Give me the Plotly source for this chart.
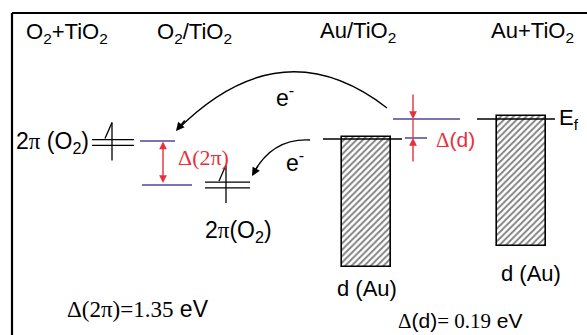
import plotly.graph_objects as go

# ---------------- data (diagram units: 587 x 335 canvas, y grows downward) ----------------
column_titles = ["O<sub>2</sub>+TiO<sub>2</sub>", "O<sub>2</sub>/TiO<sub>2</sub>",
                 "Au/TiO<sub>2</sub>", "Au+TiO<sub>2</sub>"]
column_x = [67, 194, 358, 532]
column_title_y = [33, 33, 32, 32]

# 2pi(O2) levels: free O2 (double line) and adsorbed O2 (double line)
o2_level_x0 = [92, 205]
o2_level_x1 = [134, 250]
o2_level_y = [142.5, 185]
o2_spin_x = [112, 226]

# shifted 2pi levels (blue)
pi_blue_x0 = [140, 142]
pi_blue_x1 = [175, 192]
pi_blue_y = [141, 185]

# Au d-band (hatched boxes): Au/TiO2 and Au+TiO2
d_band_x = [366.5, 521.5]
d_band_top = [137, 116]
d_band_bottom = [267, 246]
d_band_width = [49, 49]

# Fermi levels (black) and shifted d levels (blue)
fermi_x0 = [323, 477]
fermi_x1 = [402, 555]
fermi_y = [139, 119]
d_blue_x0 = [393, 405]
d_blue_x1 = [460, 427]
d_blue_y = [119, 138]

delta_2pi = 1.35
delta_d = 0.19

BLUE = "#4f449c"
RED = "#e8303a"
SANS = "Liberation Sans"
SERIF = "Liberation Serif"

fig = go.Figure()

# hatched d-band boxes
fig.add_trace(go.Bar(
    x=d_band_x, base=d_band_top,
    y=[b - t for b, t in zip(d_band_bottom, d_band_top)],
    width=d_band_width,
    marker=dict(color="white", line=dict(color="black", width=1.6),
                pattern=dict(shape="/", fgcolor="black", bgcolor="white",
                             size=4.5, solidity=0.4)),
    hoverinfo="skip", showlegend=False))

shapes = []
def line(x0, y0, x1, y1, color="black", width=1.5):
    shapes.append(dict(type="line", xref="x", yref="y", x0=x0, y0=y0, x1=x1, y1=y1,
                       line=dict(color=color, width=width)))

# frame (left and top)
line(12, 13, 12, 335, width=2.2)
line(12, 13, 587, 13, width=2.2)

# O2 double lines with spin arrows
for x0, x1, yc, xs in zip(o2_level_x0, o2_level_x1, o2_level_y, o2_spin_x):
    line(x0, yc - 2.8, x1, yc - 2.8, width=1.3)
    line(x0, yc + 2.8, x1, yc + 2.8, width=1.3)
    line(xs, yc - 20, xs, yc + 18, width=1.3)
    line(xs, yc - 20, xs - 7, yc - 4, width=1.3)

# blue levels
for x0, x1, y in zip(pi_blue_x0, pi_blue_x1, pi_blue_y):
    line(x0, y, x1, y, color=BLUE, width=1.5)
for x0, x1, y in zip(d_blue_x0, d_blue_x1, d_blue_y):
    line(x0, y, x1, y, color=BLUE, width=1.5)

# Fermi levels
for x0, x1, y in zip(fermi_x0, fermi_x1, fermi_y):
    line(x0, y, x1, y, width=1.5)

# curved electron-transfer arrows
shapes.append(dict(type="path", xref="x", yref="y",
                   path="M 387,108 Q 281,26 177,130",
                   line=dict(color="black", width=1.4)))
shapes.append(dict(type="path", xref="x", yref="y",
                   path="M 310,140 Q 272,138 253,174",
                   line=dict(color="black", width=1.4)))

# red connector for delta(d)
line(413, 119, 413, 138, color=RED, width=1.3)

annotations = []
def text(x, y, s, size=22, color="black", family=SANS):
    annotations.append(dict(x=x, y=y, xref="x", yref="y", text=s, showarrow=False,
                            xanchor="center", yanchor="middle",
                            font=dict(family=family, size=size, color=color)))

def arrow(x, y, ax, ay, color="black", width=1.4, size=1.2, head=2, side="end"):
    annotations.append(dict(x=x, y=y, ax=ax, ay=ay, xref="x", yref="y",
                            axref="x", ayref="y", text="", showarrow=True,
                            arrowhead=head, startarrowhead=head, arrowsize=size,
                            startarrowsize=size, arrowwidth=width,
                            arrowcolor=color, arrowside=side,
                            standoff=0, startstandoff=0))

for t, x, y in zip(column_titles, column_x, column_title_y):
    text(x, y, t, size=22)

pi = f"<span style='font-family:{SERIF}'>π</span>"
text(52, 142, f"2{pi} (O<sub>2</sub>)", size=23)
text(238, 231, f"2{pi}(O<sub>2</sub>)", size=23)
text(285, 96, "e<sup>-</sup>", size=23)
text(295, 161, "e<sup>-</sup>", size=23)
text(203, 157, "Δ(2π)", size=22, color=RED, family=SERIF)
text(455, 140, f"<span style='font-family:{SERIF}'>Δ</span>(d)", size=21, color=RED)
text(569, 119, "E<sub>f</sub>", size=22)
text(367, 288, "d (Au)", size=22)
text(531, 273, "d (Au)", size=22)
text(138, 309, f"<span style='font-family:{SERIF}'>Δ(2π)={delta_2pi:.2f}</span> eV", size=23)
text(460, 321, f"<span style='font-family:{SERIF}'>Δ</span>(d)"
               f"<span style='font-family:{SERIF}'>= {delta_d:.2f}</span> eV", size=21)

# arrowheads on curves
arrow(176, 131, 186, 119)
arrow(252, 176, 259, 164)
# red double arrow for delta(2pi)
arrow(163, 141.5, 163, 184.5, color=RED, width=1.4, size=1.1, side="end+start")
# red inward arrows for delta(d)
arrow(413, 119, 413, 93, color=RED, width=1.4, size=1.1)
arrow(413, 138, 413, 163, color=RED, width=1.4, size=1.1)

fig.update_layout(
    width=587, height=335,
    margin=dict(l=0, r=0, t=0, b=0),
    paper_bgcolor="white", plot_bgcolor="white",
    xaxis=dict(range=[0, 587], visible=False, fixedrange=True),
    yaxis=dict(range=[335, 0], visible=False, fixedrange=True),
    shapes=shapes, annotations=annotations,
    showlegend=False, bargap=0,
)

fig.write_html("out.html", config={"displayModeBar": False},
               post_script="document.body.style.margin='0';document.body.style.padding='0';")
